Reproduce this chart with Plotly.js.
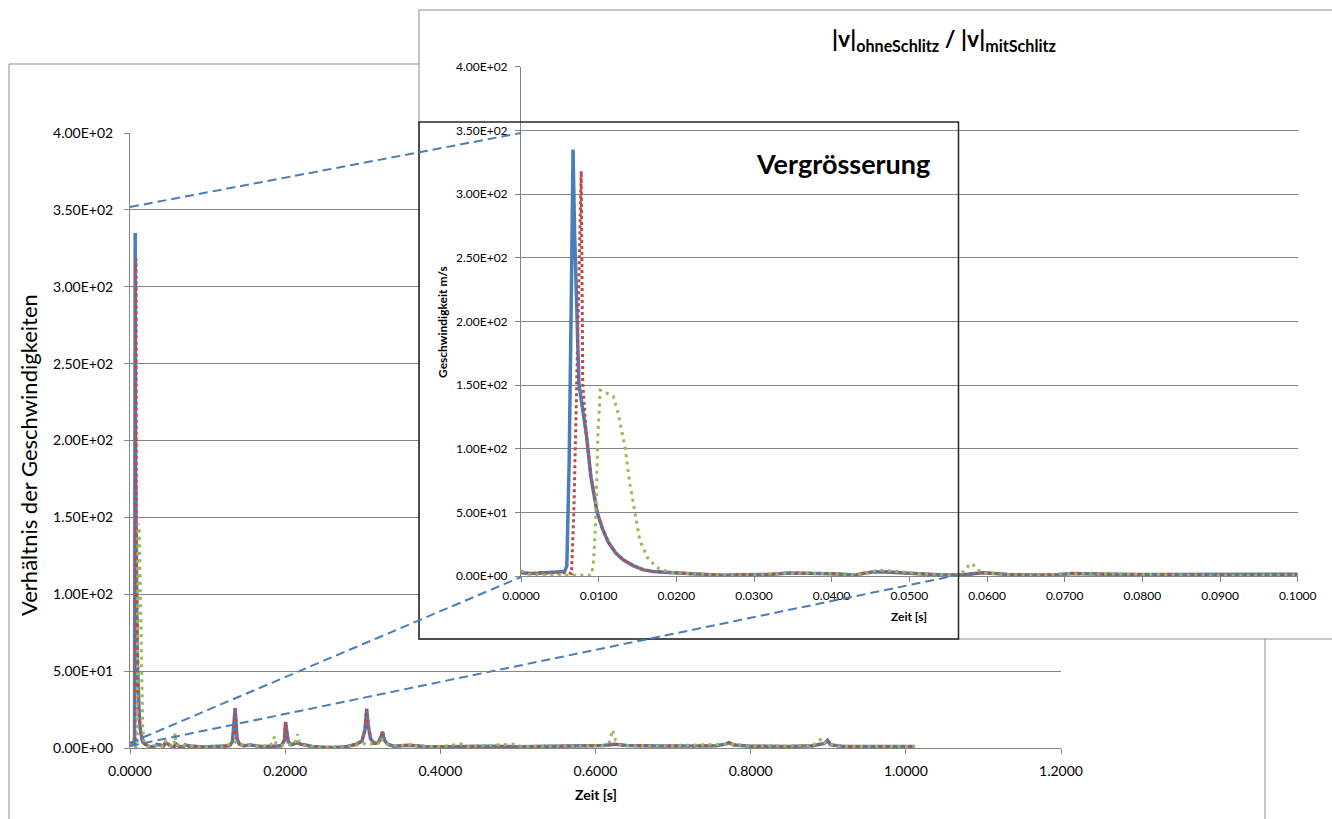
<!DOCTYPE html>
<html>
<head>
<meta charset="utf-8">
<script src="https://cdn.plot.ly/plotly-3.0.1.min.js"></script>
<style>
html,body{margin:0;padding:0;background:#fff;overflow:hidden}
#main,#inset{position:absolute;left:0;top:0;width:1332px;height:819px}
</style>
</head>
<body>
<div id="main"></div>
<div id="inset"></div>
<script>
// ---------- data ----------
// blue (solid) and red (dotted) coincide after the first spike -> shared tail
const blueHeadT = [0, 0.001, 0.002, 0.003, 0.004, 0.005, 0.0056, 0.0059, 0.0062, 0.0065, 0.0067, 0.0069, 0.0071, 0.0073, 0.00746, 0.0080];
const blueHeadV = [2.5, 2.0, 2.2, 2.5, 3.0, 3.3, 3.5, 8, 90, 230, 335, 270, 217, 180, 151, 128];

const redHeadT = [0, 0.001, 0.003, 0.005, 0.006, 0.0065, 0.0068, 0.00717, 0.0076, 0.00775, 0.00785, 0.00795];
const redHeadV = [3.5, 2.2, 2.3, 2.8, 2.5, 2.0, 50, 150, 270, 318, 240, 151];

const tailT = [0.0084, 0.0090, 0.0098, 0.0105, 0.0112, 0.0122, 0.0132, 0.0145, 0.0158, 0.0170,
  0.0185, 0.0200, 0.0220, 0.0240, 0.0260, 0.0280, 0.0300, 0.0320, 0.0345, 0.0370,
  0.0400, 0.0420, 0.0430, 0.0440, 0.0455, 0.0470, 0.0490, 0.0510, 0.0530, 0.0550,
  0.0570, 0.0585, 0.0595, 0.0610, 0.0630, 0.0660, 0.0690, 0.0710, 0.0730, 0.0760,
  0.0800, 0.0850, 0.0900, 0.0950, 0.1000, 0.1100, 0.1200, 0.1280, 0.1320, 0.1345,
  0.1355, 0.1365, 0.1380, 0.1410, 0.1460, 0.1550, 0.1700, 0.1850, 0.1950, 0.1990,
  0.2005, 0.2020, 0.2040, 0.2080, 0.2150, 0.2200, 0.2350, 0.2500, 0.2650, 0.2800,
  0.2920, 0.2990, 0.3030, 0.3050, 0.3070, 0.3100, 0.3150, 0.3200, 0.3235, 0.3255,
  0.3280, 0.3320, 0.3400, 0.3600, 0.3800, 0.4000, 0.4300, 0.4600, 0.5000, 0.5400,
  0.5800, 0.6100, 0.6250, 0.6400, 0.6800, 0.7200, 0.7550, 0.7680, 0.7720, 0.7780,
  0.8000, 0.8500, 0.8800, 0.8950, 0.8990, 0.9030, 0.9200, 0.9600, 1.0000, 1.0120];
const tailV = [112, 78, 50, 37, 27, 18, 12.6, 8, 4.8, 3.5,
  2.8, 2.3, 1.8, 1.2, 0.6, 0.9, 1.0, 1.2, 2.4, 2.3,
  1.8, 1.2, 0.6, 2.0, 3.4, 3.2, 2.4, 1.8, 1.2, 0.8,
  0.9, 2.0, 2.6, 2.0, 1.0, 0.8, 1.0, 2.0, 1.5, 1.3,
  1.2, 1.0, 0.6, 0.6, 0.8, 1.0, 0.8, 1.5, 4, 16,
  25.8, 18, 6, 2.5, 1.5, 2.0, 1.0, 1.2, 1.5, 5,
  17, 11, 4, 2.0, 3.5, 2.5, 1.0, 0.5, 0.3, 1.0,
  2.5, 4.5, 12, 25.4, 15, 6, 3, 3.5, 7, 10.6,
  5, 2.5, 1.2, 1.8, 1.0, 0.8, 1.0, 1.2, 0.8, 1.2,
  1.4, 1.6, 2.5, 1.6, 1.3, 1.2, 1.4, 2.5, 3.5, 2.0,
  1.2, 1.0, 1.5, 3, 5, 2, 1.0, 0.9, 1.0, 1.0];

const greenT = [0, 0.001, 0.003, 0.006, 0.009, 0.0093, 0.0096, 0.0099, 0.0102, 0.0106,
  0.0112, 0.0119, 0.0125, 0.0134, 0.0140, 0.0147, 0.0153, 0.0164, 0.0179, 0.0197,
  0.0220, 0.0260, 0.0300, 0.0345, 0.0400, 0.0430, 0.0460, 0.0480, 0.0510, 0.0550,
  0.0565, 0.0572, 0.0576, 0.0581, 0.0587, 0.0595, 0.0620, 0.0660, 0.0710, 0.0800,
  0.0900, 0.1000, 0.1200, 0.1330, 0.1360, 0.1400, 0.1600, 0.1800, 0.1840, 0.1860,
  0.1880, 0.1950, 0.2010, 0.2100, 0.2140, 0.2160, 0.2180, 0.2250, 0.2500, 0.2800,
  0.3000, 0.3060, 0.3120, 0.3200, 0.3230, 0.3270, 0.3350, 0.3600, 0.3630, 0.3700,
  0.4000, 0.4270, 0.4350, 0.4940, 0.5050, 0.5500, 0.6100, 0.6180, 0.6220, 0.6260,
  0.6320, 0.6800, 0.7700, 0.8000, 0.8800, 0.8920, 0.8970, 0.9200, 1.0000, 1.0120];
const greenV = [4.0, 1.5, 0.8, 0.5, 0.5, 8, 40, 110, 146, 145,
  143, 141, 128, 101, 73, 47, 28, 13, 5, 2.5,
  1.8, 0.6, 1.0, 2.3, 1.8, 0.6, 4.5, 4.0, 2.0, 0.8,
  1.0, 4.7, 8, 9.8, 5.2, 2.5, 1.2, 0.8, 1.8, 1.2,
  0.6, 0.8, 0.8, 3.5, 4, 2, 1.5, 1.2, 4, 7.4,
  3, 1.5, 2.5, 2.0, 5, 9.1, 4, 1.5, 0.5, 1.0,
  2.5, 3.5, 2.5, 3, 6.5, 4, 1.5, 2.0, 3, 1.2,
  0.8, 2.6, 1.0, 2.5, 1.0, 1.2, 1.5, 4, 11.7, 5,
  1.6, 1.3, 2.5, 1.2, 1.5, 6.3, 2.5, 1.0, 1.0, 1.0];

const mainXTicks = [0, 0.2, 0.4, 0.6, 0.8, 1.0, 1.2];
const insetXTicks = [0, 0.01, 0.02, 0.03, 0.04, 0.05, 0.06, 0.07, 0.08, 0.09, 0.1];
const yTicks = [0, 50, 100, 150, 200, 250, 300, 350, 400];

// ---------- helpers ----------
const W = 1332, H = 819;
const px = x => x / W;
const py = y => 1 - y / H;
function sci(v) {
  if (v === 0) return '0.00E+00';
  const e = Math.floor(Math.log10(v));
  const m = v / Math.pow(10, e);
  return m.toFixed(2) + 'E' + (e < 0 ? '-' : '+') + String(Math.abs(e)).padStart(2, '0');
}
const FONT = 'Lato, "Open Sans", sans-serif';
const GRID = '#868686';

const blueT = blueHeadT.concat(tailT), blueV = blueHeadV.concat(tailV);
const redT = redHeadT.concat(tailT), redV = redHeadV.concat(tailV);

function traces() {
  return [
    {x: blueT, y: blueV, type: 'scatter', mode: 'lines', line: {color: '#4A7EBB', width: 3.5}, hoverinfo: 'skip'},
    {x: redT, y: redV, type: 'scatter', mode: 'lines', line: {color: '#BE4B48', width: 3, dash: '3px,3px'}, hoverinfo: 'skip'},
    {x: greenT, y: greenV, type: 'scatter', mode: 'lines', line: {color: '#98B954', width: 3, dash: '3px,4.5px'}, hoverinfo: 'skip'}
  ];
}
const axisCommon = {showline: true, linecolor: GRID, linewidth: 1, ticks: 'outside', ticklen: 5,
  tickcolor: GRID, tickwidth: 1, zeroline: false, fixedrange: true};

// ---------- main chart ----------
const layoutMain = {
  width: W, height: H, margin: {l: 0, r: 0, t: 0, b: 0},
  paper_bgcolor: '#ffffff', plot_bgcolor: '#ffffff', showlegend: false,
  font: {family: FONT, color: '#000'},
  xaxis: Object.assign({}, axisCommon, {
    domain: [px(130), px(1061)], range: [0, 1.2], tickmode: 'array', tickvals: mainXTicks,
    tickformat: '.4f', showgrid: false, tickfont: {size: 14, color: '#000'}, ticklabelstandoff: 5
  }),
  yaxis: Object.assign({}, axisCommon, {
    domain: [py(748), py(133)], range: [0, 400], tickmode: 'array', tickvals: yTicks,
    ticktext: yTicks.map(sci), showgrid: true, gridcolor: GRID, gridwidth: 1,
    tickfont: {size: 14, color: '#000'}, ticklabelstandoff: 8
  }),
  shapes: [
    {type: 'rect', xref: 'paper', yref: 'paper', x0: px(9), x1: px(1265), y0: py(64), y1: -0.1,
     line: {color: '#8c8c8c', width: 1}, fillcolor: 'rgba(0,0,0,0)', layer: 'below'}
  ],
  annotations: [
    {xref: 'paper', yref: 'paper', x: px(595.5), y: py(794), text: '<b>Zeit [s]</b>', showarrow: false,
     xanchor: 'center', yanchor: 'middle', font: {size: 14, family: FONT, color: '#000'}},
    {xref: 'paper', yref: 'paper', x: px(28), y: py(455), text: 'Verhältnis der Geschwindigkeiten', showarrow: false,
     textangle: -90, xanchor: 'center', yanchor: 'middle', font: {size: 22, family: FONT, color: '#000'}}
  ]
};

// ---------- inset (Vergrösserung) ----------
function seg(x0, y0, x1, y1) {
  return {type: 'line', xref: 'paper', yref: 'paper', x0: px(x0), y0: py(y0), x1: px(x1), y1: py(y1),
    line: {color: '#4A7EBB', width: 2, dash: '9px,5px'}, layer: 'above'};
}
const layoutInset = {
  width: W, height: H, margin: {l: 0, r: 0, t: 0, b: 0},
  paper_bgcolor: 'rgba(0,0,0,0)', plot_bgcolor: 'rgba(0,0,0,0)', showlegend: false,
  font: {family: FONT, color: '#000'},
  title: {text: '<b>|v|<sub>ohneSchlitz</sub> / |v|<sub>mitSchlitz</sub></b>',
    font: {size: 23, family: FONT, color: '#000'},
    xref: 'paper', yref: 'paper', x: px(944), y: py(39), xanchor: 'center', yanchor: 'middle'},
  xaxis: Object.assign({}, axisCommon, {
    domain: [px(521), px(1297.7)], range: [0, 0.1], tickmode: 'array', tickvals: insetXTicks,
    tickformat: '.4f', showgrid: false, tickfont: {size: 12, color: '#000'}, ticklabelstandoff: 4
  }),
  yaxis: Object.assign({}, axisCommon, {
    domain: [py(576), py(66.7)], range: [0, 400], tickmode: 'array', tickvals: yTicks,
    ticktext: yTicks.map(sci), showgrid: true, gridcolor: GRID, gridwidth: 1,
    tickfont: {size: 12, color: '#000'}, ticklabelstandoff: 5
  }),
  shapes: [
    {type: 'rect', xref: 'paper', yref: 'paper', x0: px(419), x1: px(1345), y0: py(10), y1: py(639),
     line: {color: '#8c8c8c', width: 1}, fillcolor: '#ffffff', layer: 'below'},
    {type: 'rect', xref: 'paper', yref: 'paper', x0: px(419), x1: px(958.5), y0: py(122), y1: py(639),
     line: {color: '#262626', width: 1.5}, fillcolor: 'rgba(0,0,0,0)', layer: 'above'},
    seg(130, 207, 521, 133),
    seg(130, 743, 521, 577),
    seg(130, 746, 958, 575)
  ],
  annotations: [
    {xref: 'paper', yref: 'paper', x: px(909), y: py(616), text: '<b>Zeit [s]</b>', showarrow: false,
     xanchor: 'center', yanchor: 'middle', font: {size: 12, family: FONT, color: '#000'}},
    {xref: 'paper', yref: 'paper', x: px(443), y: py(322), text: '<b>Geschwindigkeit m/s</b>', showarrow: false,
     textangle: -90, xanchor: 'center', yanchor: 'middle', font: {size: 12, family: FONT, color: '#000'}},
    {xref: 'paper', yref: 'paper', x: px(843.5), y: py(164), text: '<b>Vergrösserung</b>', showarrow: false,
     xanchor: 'center', yanchor: 'middle', font: {size: 27, family: FONT, color: '#000'}}
  ]
};

const cfg = {staticPlot: true, displayModeBar: false};
Plotly.newPlot('main', traces(), layoutMain, cfg);
Plotly.newPlot('inset', traces(), layoutInset, cfg);
</script>
</body>
</html>
